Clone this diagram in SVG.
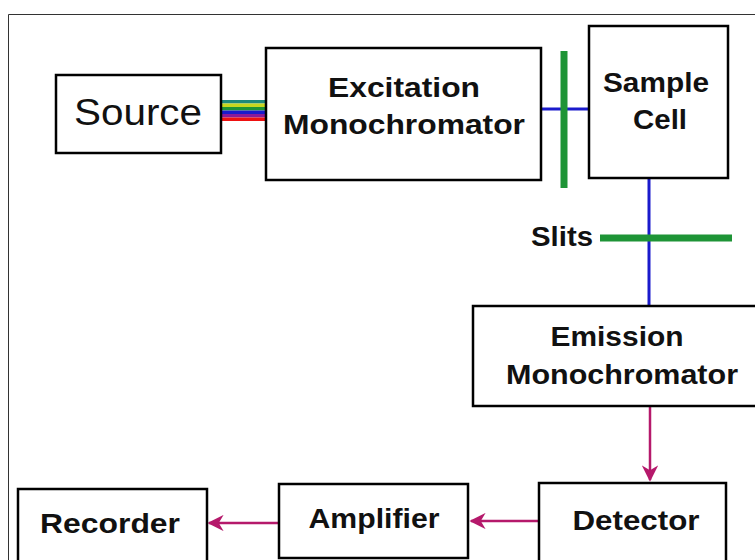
<svg xmlns="http://www.w3.org/2000/svg" width="755" height="560" viewBox="0 0 755 560">
<style>
.box{fill:#fff;stroke:#000;stroke-width:2.5}
.t{font-family:"Liberation Sans",Arial,sans-serif;font-weight:bold;font-size:28px;fill:#111;text-anchor:middle}
.beam{stroke:#1a1acc;stroke-width:3;fill:none}
.slit{stroke:#1e9436;stroke-width:7;fill:none}
.sig{stroke:#b5196b;stroke-width:2.5;fill:none;marker-end:url(#ah)}
</style>
<defs>
<marker id="ah" viewBox="0 0 10 10" refX="9" refY="5" markerWidth="6.5" markerHeight="6.5" orient="auto" markerUnits="strokeWidth">
<path d="M0,0 L10,5 L0,10 L3,5 z" fill="#b5196b"/>
</marker>
</defs>
<rect x="0" y="0" width="755" height="560" fill="#fff"/>
<path d="M8.5,560 V14.5 H755" fill="none" stroke="#333" stroke-width="1"/>
<g id="connectors">
<rect x="221" y="100" width="45" height="3.5" fill="#1f8a7a"/>
<rect x="221" y="103.5" width="45" height="3.5" fill="#c8d81e"/>
<rect x="221" y="107" width="45" height="3.5" fill="#1e9436"/>
<rect x="221" y="110.5" width="45" height="3.5" fill="#1a1acc"/>
<rect x="221" y="114" width="45" height="3.5" fill="#8a1a9a"/>
<rect x="221" y="117.5" width="45" height="3.5" fill="#ee1111"/>
<line class="beam" x1="541" y1="109" x2="589" y2="109"/>
<line class="slit" x1="564" y1="51" x2="564" y2="188"/>
<line class="beam" x1="649" y1="178" x2="649" y2="306"/>
<line class="slit" x1="600" y1="238" x2="732" y2="238"/>
<line class="sig" x1="650" y1="406" x2="650" y2="480"/>
<line class="sig" x1="539" y1="521" x2="471" y2="521"/>
<line class="sig" x1="279" y1="523" x2="209" y2="523"/>
</g>
<text class="t" x="562" y="246" textLength="62" lengthAdjust="spacingAndGlyphs">Slits</text>
<g id="source">
<rect class="box" x="56" y="75" width="165" height="78"/>
<text class="t" x="138" y="125" style="font-weight:normal;font-size:37px" textLength="128" lengthAdjust="spacingAndGlyphs">Source</text>
</g>
<g id="excitation">
<rect class="box" x="266" y="48" width="275" height="132"/>
<text class="t" x="404" y="97" textLength="152" lengthAdjust="spacingAndGlyphs">Excitation</text>
<text class="t" x="404" y="134" textLength="242" lengthAdjust="spacingAndGlyphs">Monochromator</text>
</g>
<g id="sample">
<rect class="box" x="589" y="26" width="139" height="152"/>
<text class="t" x="656" y="92" textLength="106" lengthAdjust="spacingAndGlyphs">Sample</text>
<text class="t" x="660" y="129" textLength="54" lengthAdjust="spacingAndGlyphs">Cell</text>
</g>
<g id="emission">
<rect class="box" x="473" y="306" width="290" height="100"/>
<text class="t" x="617" y="346" textLength="133" lengthAdjust="spacingAndGlyphs">Emission</text>
<text class="t" x="622" y="384" textLength="232" lengthAdjust="spacingAndGlyphs">Monochromator</text>
</g>
<g id="detector">
<rect class="box" x="539" y="483" width="187" height="85"/>
<text class="t" x="636" y="530" textLength="127" lengthAdjust="spacingAndGlyphs">Detector</text>
</g>
<g id="amplifier">
<rect class="box" x="279" y="484" width="189" height="74"/>
<text class="t" x="374" y="528" textLength="131" lengthAdjust="spacingAndGlyphs">Amplifier</text>
</g>
<g id="recorder">
<rect class="box" x="18" y="489" width="189" height="80"/>
<text class="t" x="110" y="533" textLength="140" lengthAdjust="spacingAndGlyphs">Recorder</text>
</g>
</svg>
